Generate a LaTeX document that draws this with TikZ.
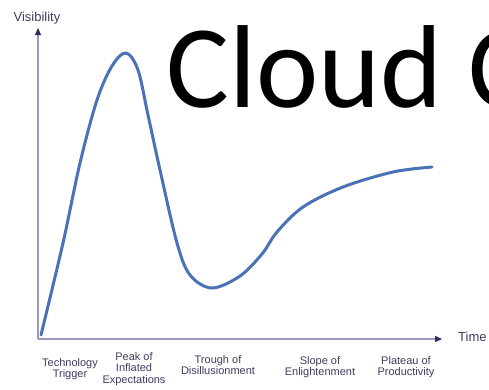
\documentclass[tikz,border=0pt]{standalone}
\usepackage{fontspec}
\setmainfont{Liberation Sans}
\newfontfamily\titlefont{Carlito}
\usetikzlibrary{arrows.meta}
\definecolor{axisline}{HTML}{9A9ABC}
\definecolor{axishead}{HTML}{2E2E5E}
\definecolor{labeltext}{HTML}{3E3E5E}
\definecolor{curveblue}{HTML}{4A72B6}
\tikzset{
  axis/.style={draw=axisline, line width=1.3pt, -{Triangle[length=7pt,width=6pt,color=axishead]}},
  phase/.style={font=\fontsize{11}{11.8}\selectfont, text=labeltext, align=center, anchor=north, inner sep=0pt},
  axislabel/.style={font=\fontsize{13}{14}\selectfont, text=labeltext, inner sep=0pt},
  hype/.style={draw=curveblue, line width=3pt, line cap=round, line join=round}
}
\begin{document}
\begin{tikzpicture}[x=1pt,y=-1pt]
\useasboundingbox (0,0) rectangle (489,389);
\fill[white] (0,0) rectangle (489,389);
\begin{scope}
\clip (0,0) rectangle (489,389);
\node[anchor=base west, inner sep=0pt, font=\titlefont\fontsize{118}{120}\selectfont] (title) at (166,107) {Cloud C};
\end{scope}
\coordinate (O) at (38,339);
\coordinate (ytip) at (38,28);
\coordinate (xtip) at (442,339);
\draw[axis] (O) -- (ytip);
\draw[axis] (O) -- (xtip);
\node[axislabel] (vis) at (37,18) {Visibility};
\node[axislabel, anchor=west] (time) at (458,337) {Time};
\draw[hype] plot[smooth, tension=0.55] coordinates {(41,335) (63,243) (80,163) (97,100) (112,66) (126,53) (138,70) (148,115) (160,170) (177,243) (190,275) (212,288) (240,276) (262,254) (277,232) (303,207) (343,187) (393,172) (432,167)};
\node[phase] (trigger) at (70,358) {Technology\\Trigger};
\node[phase] (peak) at (134,352) {Peak of\\Inflated\\Expectations};
\node[phase] (trough) at (218,355) {Trough of\\Disillusionment};
\node[phase] (slope) at (320,356) {Slope of\\Enlightenment};
\node[phase] (plateau) at (406,356) {Plateau of\\Productivity};
\end{tikzpicture}
\end{document}
